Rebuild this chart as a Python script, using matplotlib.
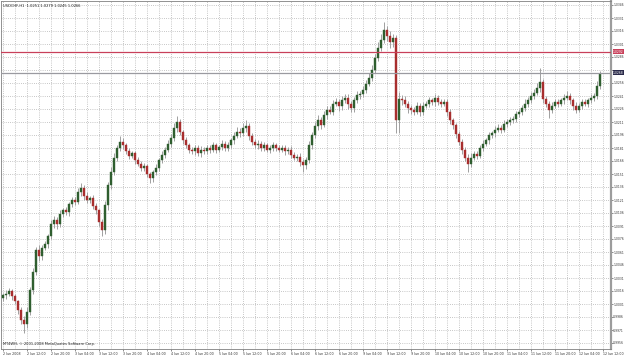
import matplotlib
matplotlib.use('Agg')
import matplotlib.pyplot as plt
import numpy as np

# ========================================
# DATA (USDCHF, H1)
# ========================================
first_open = 1.0008

closes = [
    1.0011, 1.0013, 1.0016, 1.0010, 1.0004, 0.9994, 0.9983, 0.9978, 0.9992, 1.0017,
    1.0038, 1.0063, 1.0056, 1.0066, 1.0070, 1.0079, 1.0093, 1.0098, 1.0093, 1.0105,
    1.0109, 1.0107, 1.0116, 1.0121, 1.0119, 1.0130, 1.0135, 1.0126, 1.0121, 1.0123,
    1.0114, 1.0109, 1.0096, 1.0086, 1.0115, 1.0138, 1.0153, 1.0170, 1.0181, 1.0188,
    1.0184, 1.0177, 1.0172, 1.0175, 1.0167, 1.0163, 1.0158, 1.0160, 1.0151, 1.0146,
    1.0153, 1.0158, 1.0167, 1.0173, 1.0179, 1.0186, 1.0192, 1.0204, 1.0211, 1.0199,
    1.0190, 1.0184, 1.0179, 1.0177, 1.0181, 1.0175, 1.0179, 1.0177, 1.0181, 1.0179,
    1.0184, 1.0179, 1.0182, 1.0186, 1.0181, 1.0184, 1.0190, 1.0195, 1.0200, 1.0198,
    1.0204, 1.0206, 1.0195, 1.0188, 1.0184, 1.0186, 1.0181, 1.0184, 1.0179, 1.0181,
    1.0184, 1.0181, 1.0179, 1.0181, 1.0177, 1.0179, 1.0173, 1.0170, 1.0171, 1.0165,
    1.0161, 1.0167, 1.0184, 1.0196, 1.0206, 1.0213, 1.0208, 1.0219, 1.0225, 1.0223,
    1.0232, 1.0234, 1.0229, 1.0236, 1.0239, 1.0232, 1.0227, 1.0236, 1.0242, 1.0243,
    1.0248, 1.0255, 1.0262, 1.0271, 1.0285, 1.0296, 1.0306, 1.0317, 1.0310, 1.0303,
    1.0308, 1.0213, 1.0238, 1.0236, 1.0232, 1.0227, 1.0225, 1.0223, 1.0230, 1.0223,
    1.0230, 1.0232, 1.0236, 1.0234, 1.0239, 1.0234, 1.0232, 1.0234, 1.0223, 1.0213,
    1.0207, 1.0197, 1.0188, 1.0179, 1.0170, 1.0163, 1.0170, 1.0174, 1.0172, 1.0181,
    1.0186, 1.0190, 1.0196, 1.0198, 1.0202, 1.0204, 1.0202, 1.0209, 1.0211, 1.0213,
    1.0215, 1.0220, 1.0223, 1.0227, 1.0232, 1.0236, 1.0241, 1.0245, 1.0250, 1.0257,
    1.0238, 1.0232, 1.0225, 1.0230, 1.0234, 1.0232, 1.0236, 1.0239, 1.0241, 1.0236,
    1.0230, 1.0225, 1.0230, 1.0234, 1.0232, 1.0236, 1.0239, 1.0241, 1.0253, 1.0266,
]

# upper / lower shadow lengths in pips
up_pips = [
    3, 4, 3, 2, 3, 2, 3, 4, 5, 4,
    5, 4, 6, 3, 4, 3, 5, 4, 3, 4,
    3, 4, 3, 4, 3, 5, 6, 3, 4, 3,
    4, 3, 2, 3, 5, 4, 6, 5, 4, 7,
    4, 3, 4, 3, 3, 4, 3, 4, 3, 2,
    3, 4, 3, 4, 3, 4, 5, 6, 7, 4,
    3, 4, 3, 3, 4, 3, 4, 3, 4, 3,
    4, 3, 3, 4, 3, 4, 3, 4, 5, 4,
    6, 7, 4, 3, 3, 4, 3, 4, 3, 3,
    4, 3, 3, 4, 3, 3, 4, 3, 3, 4,
    3, 4, 5, 4, 5, 6, 4, 5, 4, 5,
    4, 5, 4, 5, 4, 4, 3, 4, 5, 4,
    5, 4, 5, 6, 5, 7, 6, 9, 5, 6,
    4, 3, 8, 4, 5, 3, 4, 3, 4, 3,
    4, 3, 4, 3, 4, 3, 3, 4, 3, 3,
    3, 3, 4, 3, 3, 4, 5, 4, 3, 4,
    4, 3, 4, 3, 4, 5, 3, 4, 3, 4,
    3, 4, 3, 4, 5, 4, 5, 4, 6, 16,
    4, 3, 3, 4, 3, 4, 3, 4, 6, 3,
    3, 4, 3, 3, 4, 3, 4, 3, 5, 4,
]
dn_pips = [
    3, 4, 3, 4, 3, 4, 5, 10, 5, 4,
    4, 3, 5, 4, 3, 4, 3, 4, 5, 3,
    4, 3, 4, 3, 4, 3, 4, 5, 3, 4,
    3, 4, 5, 6, 4, 5, 4, 3, 4, 3,
    4, 3, 4, 3, 4, 3, 4, 3, 4, 5,
    4, 3, 4, 3, 4, 3, 4, 3, 4, 3,
    4, 3, 4, 3, 4, 3, 4, 3, 3, 4,
    3, 4, 3, 3, 4, 3, 3, 4, 3, 4,
    3, 4, 5, 4, 3, 4, 3, 4, 3, 4,
    3, 4, 3, 3, 4, 3, 4, 3, 4, 5,
    8, 4, 3, 4, 3, 4, 5, 3, 4, 3,
    4, 3, 5, 4, 3, 6, 5, 4, 3, 4,
    3, 4, 3, 4, 3, 4, 3, 4, 6, 7,
    5, 15, 15, 5, 4, 6, 5, 4, 3, 5,
    4, 3, 4, 3, 4, 3, 4, 3, 5, 4,
    4, 5, 4, 5, 4, 10, 4, 3, 4, 3,
    4, 3, 4, 3, 4, 3, 4, 3, 4, 3,
    3, 4, 3, 4, 3, 4, 3, 4, 3, 4,
    5, 4, 9, 4, 3, 4, 3, 4, 3, 4,
    5, 4, 3, 4, 3, 4, 3, 4, 3, 4,
]

time_labels = [
    '2 Jun 2008', '2 Jun 12:00', '2 Jun 20:00', '3 Jun 04:00', '3 Jun 12:00',
    '3 Jun 20:00', '4 Jun 04:00', '4 Jun 12:00', '4 Jun 20:00', '5 Jun 04:00',
    '5 Jun 12:00', '5 Jun 20:00', '6 Jun 04:00', '6 Jun 12:00', '6 Jun 20:00',
    '9 Jun 04:00', '9 Jun 12:00', '9 Jun 20:00', '10 Jun 04:00', '10 Jun 12:00',
    '10 Jun 20:00', '11 Jun 04:00', '11 Jun 12:00', '11 Jun 20:00', '12 Jun 04:00',
    '12 Jun 12:00',
]
price_top = 1.0346
price_step = 0.0015
n_price_labels = 27

header = 'USDCHF,H1  1.0251 1.0279 1.0245 1.0266'
copyright_txt = 'MT4WH, © 2001-2008 MetaQuotes Software Corp.'
red_level = 1.0292
bid_level = 1.0268

# ========================================
# BUILD OHLC
# ========================================
closes = np.array(closes)
opens = np.concatenate([[first_open], closes[:-1]])
highs = np.maximum(opens, closes) + np.array(up_pips) * 0.0001
lows = np.minimum(opens, closes) - np.array(dn_pips) * 0.0001
idx = np.arange(len(closes))

# ========================================
# FIGURE
# ========================================
W, H = 625, 355
fig = plt.figure(figsize=(W / 100, H / 100), dpi=100)
fig.patch.set_facecolor('white')
ax = fig.add_axes([1 / W, 6 / H, 610 / W, 348 / H])
ax.set_facecolor('white')

px = 0.0015 / 13  # price per pixel
ax.set_ylim(price_top - 344 * px, price_top + 4 * px)
ax.set_xlim(-0.67, 202.67)

grid_kw = dict(color='#b4b4b4', linewidth=0.6, linestyle=(0, (1, 1.6)), zorder=0)
price_ticks = [price_top - k * price_step for k in range(n_price_labels)]
for p in price_ticks:
    ax.axhline(p, **grid_kw)
for k in range(0, 204, 4):
    ax.axvline(k, **grid_kw)

# candles
bull = closes >= opens
ax.vlines(idx, lows, highs, color='#a0a0a0', linewidth=0.7, zorder=2)
body_bot = np.minimum(opens, closes)
body_h = np.maximum(np.abs(closes - opens), 0.00004)
ax.bar(idx[bull], body_h[bull], bottom=body_bot[bull], width=0.62,
       color='#2f5e2f', edgecolor='#2f5e2f', linewidth=0.3, zorder=3)
ax.bar(idx[~bull], body_h[~bull], bottom=body_bot[~bull], width=0.62,
       color='#a82e2e', edgecolor='#a82e2e', linewidth=0.3, zorder=3)

# horizontal levels
ax.axhline(red_level, color='#c8405a', linewidth=0.9, zorder=4)
ax.axhline(bid_level, color='#9a9aa0', linewidth=0.9, zorder=4)

# right price scale (the label hidden under the bid box is left blank)
ax.yaxis.tick_right()
ax.set_yticks(price_ticks)
ax.set_yticklabels(['' if abs(p - bid_level) < 0.0006 else f'{p:.4f}'
                    for p in price_ticks])
ax.tick_params(axis='y', length=1.2, width=0.4, pad=0.4, labelsize=2.2,
               colors='#333333')

# time scale
ax.set_xticks(range(0, 8 * len(time_labels), 8))
ax.set_xticklabels(time_labels, ha='left')
ax.tick_params(axis='x', length=1.5, width=0.4, pad=0.6, labelsize=2.3,
               colors='#333333')

for side in ['left', 'top']:
    ax.spines[side].set_color('#808080')
    ax.spines[side].set_linewidth(0.6)
ax.spines['right'].set_color('#9c9c9c')
ax.spines['right'].set_linewidth(1.6)
ax.spines['bottom'].set_color('#808080')
ax.spines['bottom'].set_linewidth(0.6)

# price boxes on the scale
box_kw = dict(transform=ax.get_yaxis_transform(), fontsize=2.2, color='white',
              va='center', ha='left', zorder=6, clip_on=False)
ax.text(1.0035, red_level, f'{red_level:.4f}',
        bbox=dict(boxstyle='square,pad=0.2', fc='#c8405a', ec='none'), **box_kw)
ax.text(1.0035, bid_level, f'{bid_level:.4f}',
        bbox=dict(boxstyle='square,pad=0.2', fc='#2a2a4a', ec='none'), **box_kw)

# header and copyright
ax.text(0.003, 0.992, header, transform=ax.transAxes, fontsize=2.6,
        va='top', ha='left', color='#222222')
ax.text(0.003, 0.008, copyright_txt, transform=ax.transAxes, fontsize=2.6,
        va='bottom', ha='left', color='#222222')

fig.savefig('out.png', dpi=100, facecolor='white')
